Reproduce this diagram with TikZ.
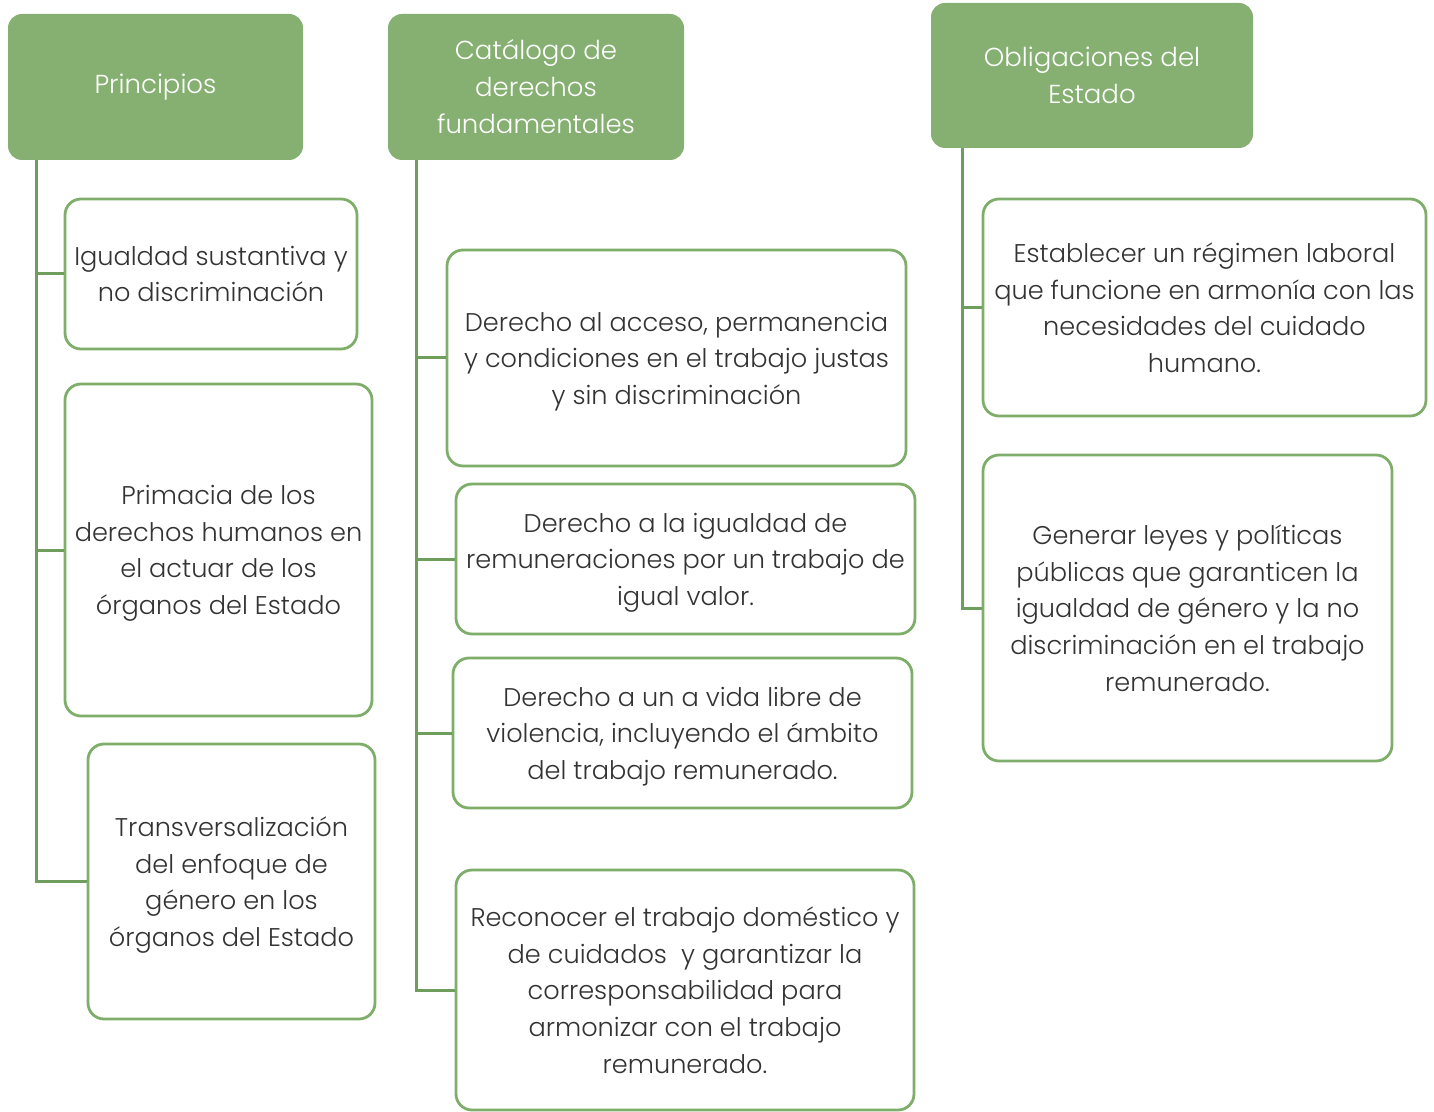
\documentclass[tikz,border=0pt]{standalone}
\usepackage{fontspec}
\setmainfont{Poppins}[UprightFont=* Light]
\usetikzlibrary{calc}
\definecolor{hdrgreen}{HTML}{86B072}
\definecolor{bordgreen}{HTML}{7FAE6B}
\definecolor{linegreen}{HTML}{6F9E5C}
\definecolor{txtgray}{HTML}{333333}
\begin{document}
\begin{tikzpicture}[x=0.5pt,y=-0.5pt,
  header/.style={rectangle, rounded corners=7pt, fill=hdrgreen, text=white, align=center, font=\fontsize{13}{18.5}\selectfont, inner sep=0pt},
  child/.style={rectangle, rounded corners=8pt, draw=bordgreen, line width=1.4pt, fill=white, text=txtgray, align=center, font=\fontsize{12.8}{18.3}\selectfont, inner sep=0pt, text depth=0pt},
  conn/.style={draw=linegreen, line width=1.5pt}]
\useasboundingbox (0,0) rectangle (1434,1112);
% headers
\node[header, minimum width=147.5pt, minimum height=73pt] (h1) at (155.5,87) {Principios};
\node[header, minimum width=148pt, minimum height=73pt] (h2) at (536,87) {Catálogo de\\derechos\\fundamentales};
\node[header, minimum width=161pt, minimum height=72.5pt] (h3) at (1092,75.5) {Obligaciones del\\Estado};
% column 1
\node[child, minimum width=146pt, minimum height=75pt] (c1a) at (211,274) {Igualdad sustantiva y\\no discriminación};
\node[child, minimum width=153.5pt, minimum height=166pt] (c1b) at (218.5,550) {Primacia de los\\derechos humanos en\\el actuar de los\\órganos del Estado};
\node[child, minimum width=143.5pt, minimum height=137.5pt] (c1c) at (231.5,881.5) {Transversalización\\del enfoque de\\género en los\\órganos del Estado};
% column 2
\node[child, minimum width=229.5pt, minimum height=108pt] (c2a) at (676.5,358) {Derecho al acceso, permanencia\\y condiciones en el trabajo justas\\y sin discriminación};
\node[child, minimum width=229.5pt, minimum height=75pt] (c2b) at (685.5,559) {Derecho a la igualdad de\\remuneraciones por un trabajo de\\igual valor.};
\node[child, minimum width=229.5pt, minimum height=75pt] (c2c) at (682.5,733) {Derecho a un a vida libre de\\violencia, incluyendo el ámbito\\del trabajo remunerado.};
\node[child, minimum width=229pt, minimum height=120pt] (c2d) at (685,990) {Reconocer el trabajo doméstico y\\de cuidados \ y garantizar la\\corresponsabilidad para\\armonizar con el trabajo\\remunerado.};
% column 3
\node[child, minimum width=221.5pt, minimum height=108.5pt] (c3a) at (1204.5,307.5) {Establecer un régimen laboral\\que funcione en armonía con las\\necesidades del cuidado\\humano.};
\node[child, minimum width=204.5pt, minimum height=153pt] (c3b) at (1187.5,608) {Generar leyes y políticas\\públicas que garanticen la\\igualdad de género y la no\\discriminación en el trabajo\\remunerado.};
% trunk start points
\coordinate (t1) at (36,160);
\coordinate (t2) at (416,160);
\coordinate (t3) at (962,148);
% connectors
\draw[conn] (t1) |- (c1c.west);
\draw[conn] (c1a.west) -- (c1a.west -| t1);
\draw[conn] (c1b.west) -- (c1b.west -| t1);
\draw[conn] (t2) |- (c2d.west);
\draw[conn] (c2a.west) -- (c2a.west -| t2);
\draw[conn] (c2b.west) -- (c2b.west -| t2);
\draw[conn] (c2c.west) -- (c2c.west -| t2);
\draw[conn] (t3) |- (c3b.west);
\draw[conn] (c3a.west) -- (c3a.west -| t3);
\end{tikzpicture}
\end{document}
